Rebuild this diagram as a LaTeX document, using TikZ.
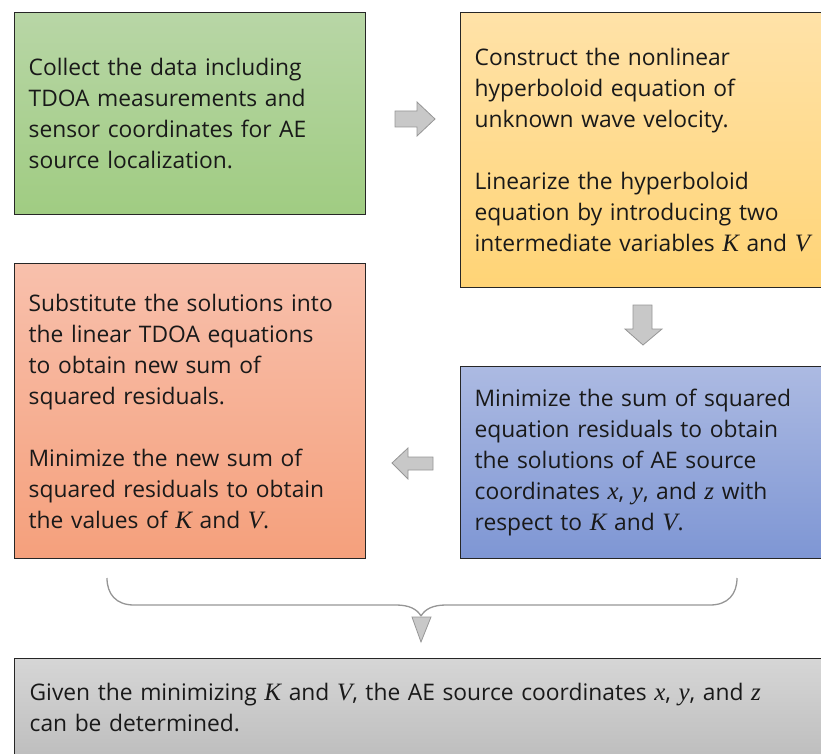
\documentclass[tikz,border=0pt]{standalone}
\usepackage{fontspec}
\setmainfont{Open Sans}
\newfontfamily\mfont{Liberation Serif}
\newcommand\mv[1]{{\mfont\itshape\fontsize{25}{31}\selectfont #1}}
\definecolor{gtop}{RGB}{184,214,166}
\definecolor{gbot}{RGB}{160,204,130}
\definecolor{otop}{RGB}{255,226,168}
\definecolor{obot}{RGB}{255,212,118}
\definecolor{rtop}{RGB}{248,192,172}
\definecolor{rbot}{RGB}{245,160,124}
\definecolor{btop}{RGB}{172,186,226}
\definecolor{bbot}{RGB}{126,150,212}
\definecolor{ktop}{RGB}{214,214,214}
\definecolor{kbot}{RGB}{190,190,190}
\definecolor{arrfill}{RGB}{200,200,200}
\definecolor{arrline}{RGB}{150,150,150}
\tikzset{
  stepbox/.style={draw=black!85, line width=1.3pt, anchor=north west, align=left,
    inner xsep=14pt, inner ysep=0pt, font=\fontsize{22.8}{31}\selectfont, text=black!90},
  blockarrow/.style={fill=arrfill, draw=arrline, line width=0.8pt, line join=miter},
  bracestyle/.style={draw=arrline, line width=1.3pt}
}
\begin{document}
\begin{tikzpicture}[x=1pt,y=-1pt]
\useasboundingbox (0,0) rectangle (821,754);
\node[stepbox, top color=gtop, bottom color=gbot, minimum width=351pt, minimum height=202pt, text width=323pt] (collect) at (14,12)
 {Collect the data including\\TDOA measurements and\\sensor coordinates for AE\\source localization.};
\node[stepbox, top color=otop, bottom color=obot, minimum width=380pt, minimum height=275pt, text width=352pt] (construct) at (460,12)
 {Construct the nonlinear\\hyperboloid equation of\\unknown wave velocity.\\[31pt]Linearize the hyperboloid\\equation by introducing two\\intermediate variables \mv{K} and \mv{V}};
\node[stepbox, top color=rtop, bottom color=rbot, minimum width=351pt, minimum height=295pt, text width=323pt] (subst) at (14,263)
 {Substitute the solutions into\\the linear TDOA equations\\to obtain new sum of\\squared residuals.\\[31pt]Minimize the new sum of\\squared residuals to obtain\\the values of \mv{K} and \mv{V}.};
\node[stepbox, top color=btop, bottom color=bbot, minimum width=380pt, minimum height=192pt, text width=352pt] (minim) at (460,366)
 {Minimize the sum of squared\\equation residuals to obtain\\the solutions of AE source\\coordinates \mv{x}, \mv{y}, and \mv{z} with\\respect to \mv{K} and \mv{V}.};
\node[stepbox, top color=ktop, bottom color=kbot, minimum width=830pt, minimum height=98pt, text width=800pt] (final) at (14,658)
 {Given the minimizing \mv{K} and \mv{V}, the AE source coordinates \mv{x}, \mv{y}, and \mv{z}\\can be determined.};
% block arrows
\draw[blockarrow] (395,111) -- (417,111) -- (417,102) -- (435,119) -- (417,136) -- (417,127) -- (395,127) -- cycle;
\draw[blockarrow] (633,305) -- (652,305) -- (652,329) -- (662,329) -- (643,345) -- (625,329) -- (633,329) -- cycle;
\draw[blockarrow] (433,457) -- (408,457) -- (408,448) -- (392,463) -- (408,479) -- (408,470) -- (433,470) -- cycle;
% brace
\coordinate (bl) at (107,578);
\coordinate (br) at (737,578);
\coordinate (bm) at (421,616);
\draw[bracestyle] (bl) .. controls (107,594) and (116,605) .. (134,605) -- (396,605)
  .. controls (409,605) and (417,609) .. (bm);
\draw[bracestyle] (br) .. controls (737,594) and (728,605) .. (710,605) -- (446,605)
  .. controls (433,605) and (425,609) .. (bm);
\draw[blockarrow] (412,617) -- (431,617) -- (421,642) -- cycle;
\end{tikzpicture}
\end{document}
